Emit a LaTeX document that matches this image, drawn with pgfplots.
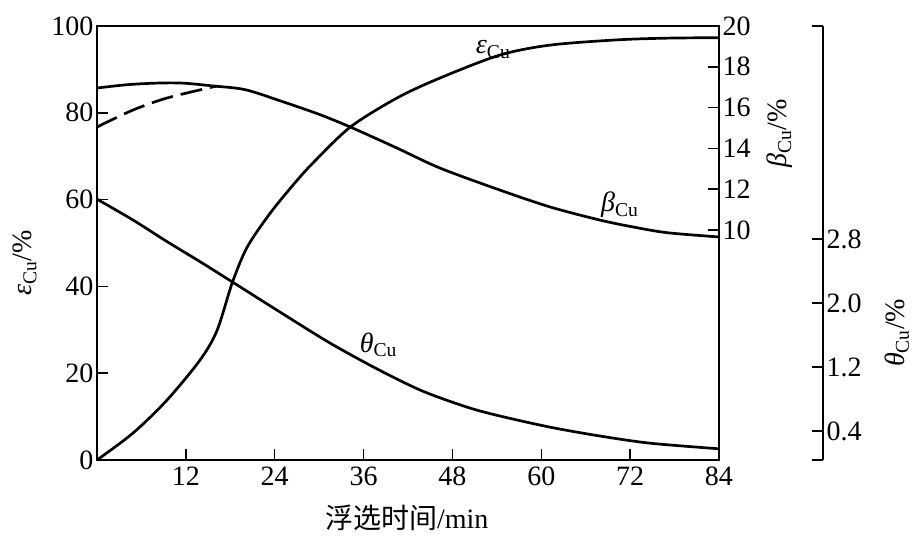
\documentclass[border=0pt]{standalone}
\usepackage{fontspec}
\setmainfont{Liberation Serif}
\newfontfamily\cjk{Noto Sans CJK SC}
\usepackage{pgfplots}
\pgfplotsset{compat=1.18}
\begin{document}
\begin{tikzpicture}
\useasboundingbox (-97pt,-77pt) rectangle (821pt,460pt);
\pgfplotsset{every axis/.append style={
  scale only axis, height=434pt, clip=false,
  /pgf/number format/assume math mode=true,
  tick label style={font=\fontsize{28}{30}\selectfont},
  label style={font=\fontsize{28}{30}\selectfont},
  major tick length=11pt,
  axis line style={-, line width=1.6pt},
  tick style={line width=1.5pt, black},
}}
% main axis: recovery
\begin{axis}[width=622pt, xmin=0, xmax=84, ymin=0, ymax=100,
  xtick={12,24,...,84}, ytick={0,20,...,100},
  xtick pos=left, ytick pos=left,
  xticklabel style={yshift=-3pt},
  xlabel={{\cjk 浮选时间}/min},
  ylabel={{\itshape ε}\textsubscript{Cu}/\%},
  xlabel style={at={(rel axis cs:0.498,-0.134)}, anchor=center},
  ylabel style={at={(rel axis cs:-0.116,0.454)}, anchor=center},
]
\addplot[black, line width=2.7pt, smooth] coordinates {
(0,0) (4.86,6.2) (9.45,13.8) (13.9,23.0) (16.2,29.8) (18.3,41.0) (20.3,49.1)
(23.4,56.9) (26.7,63.8) (29.2,68.5) (34.2,76.7) (40.5,83.4) (46.3,88.0)
(54.4,93.3) (61.2,95.6) (70.2,96.8) (77,97.2) (84,97.3)};
\node[font=\fontsize{28}{30}\selectfont] at (axis cs:53.5,94.6) {{\itshape ε}\textsubscript{Cu}};
\node[font=\fontsize{28}{30}\selectfont] at (axis cs:70.6,58.8) {{\itshape β}\textsubscript{Cu}};
\node[font=\fontsize{28}{30}\selectfont] at (axis cs:38.0,26.5) {{\itshape θ}\textsubscript{Cu}};
\node[font=\fontsize{28}{30}\selectfont, rotate=90] at (rel axis cs:1.098,0.753) {{\itshape β}\textsubscript{Cu}/\%};
\node[font=\fontsize{28}{30}\selectfont, rotate=90] at (rel axis cs:1.286,0.293) {{\itshape θ}\textsubscript{Cu}/\%};
\end{axis}
% grade axis
\begin{axis}[width=622pt, xmin=0, xmax=84, ymin=-1.27, ymax=20,
  axis y line*=right, axis x line=none, ytick={10,12,...,20}]
\addplot[black, line width=2.7pt, smooth] coordinates {
(0,16.96) (4,17.12) (8,17.2) (11.6,17.2) (15.7,17.06) (20,16.88) (25,16.3)
(30,15.67) (34.2,15.05) (40.5,14.02) (46.3,13.04) (54.4,11.96) (61.2,11.13)
(67.9,10.49) (72.4,10.15) (77,9.87) (84,9.66)};
\addplot[black, line width=2.7pt, smooth, dash pattern=on 22pt off 8pt] coordinates {
(0,15.05) (4.86,15.88) (9.45,16.47) (16.2,17.06)};
\end{axis}
% tailings grade axis
\begin{axis}[width=726pt, xmin=0, xmax=98.04, ymin=0.04, ymax=5.465,
  axis y line*=right, axis x line=none, ytick={0.4,1.2,2.0,2.8},
  yticklabel style={/pgf/number format/fixed, /pgf/number format/fixed zerofill, /pgf/number format/precision=1},
  extra y ticks={0.04,5.465}, extra y tick labels={}]
\addplot[black, line width=2.7pt, smooth] coordinates {
(0,3.30) (4.86,3.04) (9.45,2.77) (13.9,2.52) (18.2,2.27) (24.7,1.89)
(31.5,1.50) (38.2,1.16) (44.0,0.90) (50.0,0.70) (54.4,0.59) (61.2,0.45)
(67.9,0.34) (74.7,0.25) (84,0.18)};
\end{axis}
\end{tikzpicture}
\end{document}
